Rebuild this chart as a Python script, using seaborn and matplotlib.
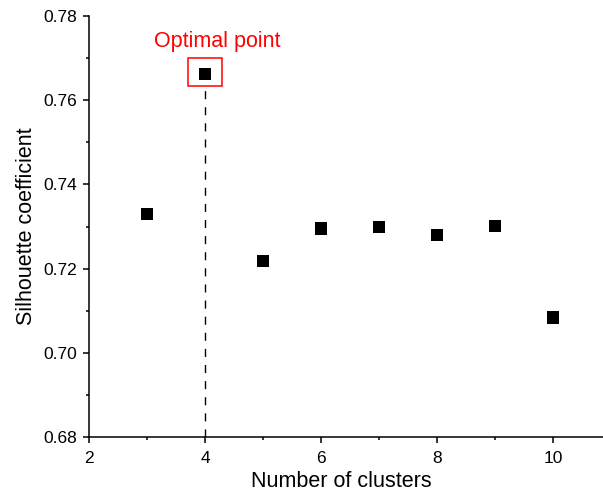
import matplotlib
matplotlib.use("Agg")
import matplotlib.pyplot as plt
from matplotlib.patches import Rectangle
from matplotlib.ticker import MultipleLocator
import seaborn as sns
import pandas as pd

# Silhouette coefficient for each number of clusters
clusters = [3, 4, 5, 6, 7, 8, 9, 10]
silhouette = [0.7329, 0.7662, 0.7218, 0.7295, 0.7299, 0.7279, 0.7302, 0.7084]
optimal_k = 4
optimal_label = "Optimal point"
x_label = "Number of clusters"
y_label = "Silhouette coefficient"

sns.set_style("ticks")
plt.rcParams["font.family"] = ["Liberation Sans", "DejaVu Sans"]
plt.rcParams["text.color"] = "black"
plt.rcParams["axes.labelcolor"] = "black"

df = pd.DataFrame({"k": clusters, "s": silhouette})

fig = plt.figure(figsize=(6.03, 4.93), dpi=100)
ax = fig.add_axes([0.1476, 0.1136, 0.8524, 0.8539])

sns.scatterplot(data=df, x="k", y="s", marker="s", s=78, color="black",
                edgecolor="none", ax=ax, zorder=3)

ax.set_xlim(2, 10.86)
ax.set_ylim(0.68, 0.78)
ax.xaxis.set_major_locator(MultipleLocator(2))
ax.xaxis.set_minor_locator(MultipleLocator(1))
ax.yaxis.set_major_locator(MultipleLocator(0.02))
ax.yaxis.set_minor_locator(MultipleLocator(0.01))
ax.set_yticks(ax.get_yticks())
ax.set_yticklabels([f"{v:.2f}" for v in ax.get_yticks()])
ax.set_ylim(0.68, 0.78)

for side in ("top", "right"):
    ax.spines[side].set_visible(False)
for side in ("left", "bottom"):
    ax.spines[side].set_linewidth(1.1)
    ax.spines[side].set_color("black")

ax.tick_params(which="major", direction="out", length=4.5, width=1.1,
               labelsize=12.5, colors="black")
ax.tick_params(which="minor", direction="out", length=2.5, width=1.1,
               colors="black")
ax.tick_params(axis="x", which="major", pad=5.5)
ax.tick_params(axis="y", which="major", pad=4)

ax.set_xlabel(x_label, fontsize=15.5)
ax.set_ylabel(y_label, fontsize=15.5)
ax.xaxis.set_label_coords(0.4916, -0.080)
ax.yaxis.set_label_coords(-0.101, 0.5)

# Highlight the best cluster count
opt_val = silhouette[clusters.index(optimal_k)]
box_w, box_h = 0.6, 0.0067
box_bottom = opt_val - 0.0029
ax.add_patch(Rectangle((optimal_k - box_w / 2, box_bottom), box_w, box_h,
                       fill=False, edgecolor="red", linewidth=1.1, zorder=4))
ax.plot([optimal_k, optimal_k], [0.68, box_bottom], color="black",
        linewidth=1.0, linestyle=(0, (5.8, 5.8)), zorder=2)
ax.text(optimal_k + 0.207, 0.7726, optimal_label, color="red",
        fontsize=15.5, ha="center", va="baseline")

fig.savefig("out.png", dpi=100)
